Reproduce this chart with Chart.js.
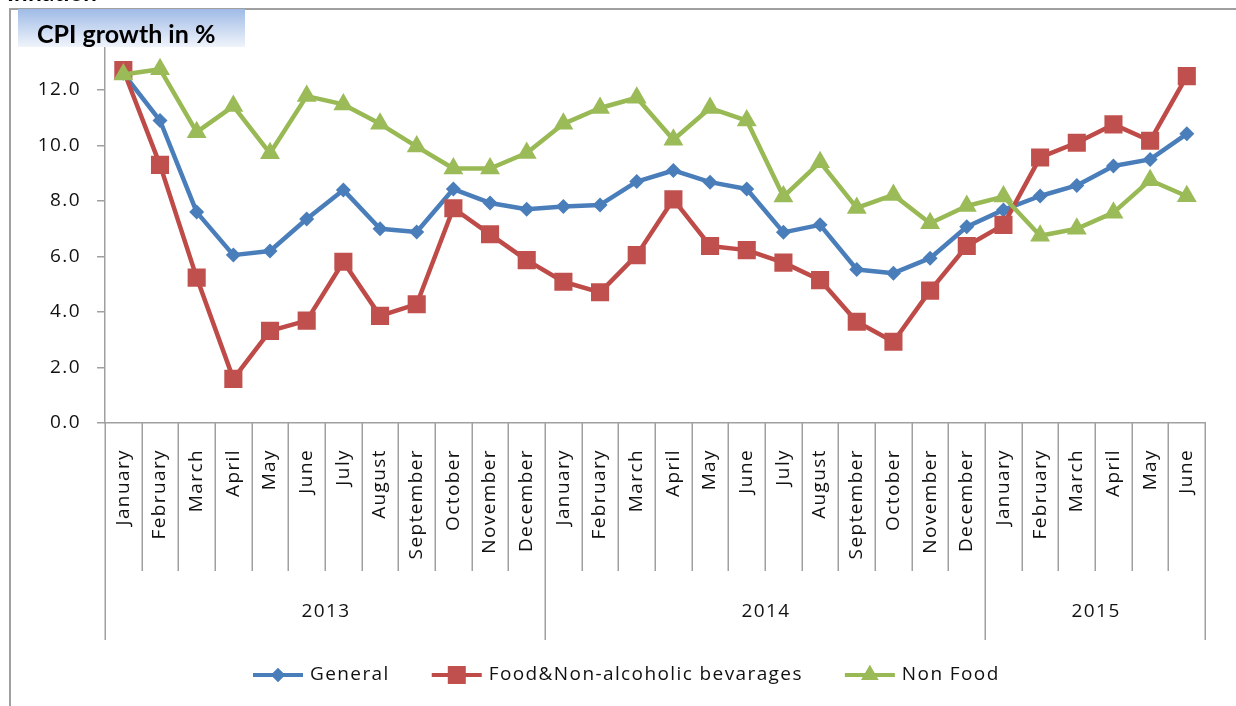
<!DOCTYPE html>
<html>
<head>
<meta charset="utf-8">
<title>CPI growth in %</title>
<script src="https://cdn.jsdelivr.net/npm/chart.js@4/dist/chart.umd.min.js"></script>
<style>
  html, body { margin: 0; padding: 0; background: #fff; }
  canvas { display: block; }
</style>
</head>
<body>
<canvas id="cpiChart" width="1236" height="706"></canvas>
<script>
// --- DATA ---
const years = ['2013', '2014', '2015'];
const monthsPerYear = [12, 12, 6];
const monthNames = ['January', 'February', 'March', 'April', 'May', 'June',
  'July', 'August', 'September', 'October', 'November', 'December'];
const months = years.flatMap((y, i) => monthNames.slice(0, monthsPerYear[i]));

const seriesNames = ['General', 'Food&Non-alcoholic bevarages', 'Non Food'];
const general = [12.6, 10.9, 7.6, 6.05, 6.2, 7.35, 8.4, 7.0, 6.88, 8.43, 7.93, 7.7,
  7.8, 7.86, 8.7, 9.1, 8.68, 8.43, 6.87, 7.14, 5.53, 5.4, 5.94, 7.07,
  7.68, 8.18, 8.56, 9.26, 9.5, 10.42];
const food = [12.72, 9.3, 5.24, 1.59, 3.32, 3.69, 5.81, 3.86, 4.28, 7.74, 6.8, 5.87,
  5.09, 4.71, 6.05, 8.06, 6.38, 6.23, 5.78, 5.15, 3.65, 2.93, 4.77, 6.38,
  7.14, 9.57, 10.1, 10.76, 10.17, 12.5];
const nonFood = [12.56, 12.75, 10.48, 11.42, 9.72, 11.78, 11.48, 10.78, 9.96, 9.17, 9.17, 9.73,
  10.78, 11.35, 11.72, 10.21, 11.35, 10.9, 8.16, 9.4, 7.75, 8.22, 7.2, 7.82,
  8.16, 6.75, 7.0, 7.58, 8.75, 8.17];
const yTicks = [0, 2, 4, 6, 8, 10, 12, 14];

const titleText = 'CPI growth in %';
const GRAY = '#a0a0a0';
const TEXT_FONT = '"Open Sans", sans-serif';
const TRACKING = '1.4px';

// text in this chart is drawn with a bit of extra tracking
const spacing = {
  id: 'spacing',
  beforeLayout(chart) { chart.ctx.letterSpacing = TRACKING; },
  beforeDraw(chart) { chart.ctx.letterSpacing = TRACKING; }
};

// outer frame, month / year dividers, year labels, legend and title box
const decor = {
  id: 'decor',
  beforeDraw(chart) {
    const ctx = chart.ctx;
    ctx.save();
    ctx.strokeStyle = GRAY;
    ctx.lineWidth = 2;
    ctx.beginPath();
    ctx.moveTo(10, 706);
    ctx.lineTo(10, 9);
    ctx.lineTo(1236, 9);
    ctx.stroke();
    ctx.restore();
  },
  afterDraw(chart) {
    const ctx = chart.ctx;
    const area = chart.chartArea;
    const x = chart.scales.x;
    const n = months.length;
    const edge = i => {
      if (i <= 0) return area.left;
      if (i >= n) return area.right;
      return (x.getPixelForValue(i - 1) + x.getPixelForValue(i)) / 2;
    };

    const yearStarts = [0];
    monthsPerYear.forEach(c => yearStarts.push(yearStarts[yearStarts.length - 1] + c));

    ctx.save();
    ctx.strokeStyle = GRAY;
    ctx.lineWidth = 1.5;
    for (let i = 0; i <= n; i++) {
      const isYear = yearStarts.includes(i);
      const px = Math.round(edge(i)) + 0.25;
      ctx.beginPath();
      ctx.moveTo(px, area.bottom);
      ctx.lineTo(px, area.bottom + (isYear ? 217 : 148));
      ctx.stroke();
    }

    ctx.letterSpacing = TRACKING;
    ctx.fillStyle = '#111';
    ctx.font = '19px ' + TEXT_FONT;
    ctx.textAlign = 'center';
    ctx.textBaseline = 'middle';
    years.forEach((yr, k) => {
      const cx = (edge(yearStarts[k]) + edge(yearStarts[k + 1])) / 2;
      ctx.fillText(yr, cx + 1, area.bottom + 189);
    });

    // legend
    ctx.textAlign = 'left';
    let lx = 253;
    const ly = 675;
    chart.data.datasets.forEach(ds => {
      ctx.strokeStyle = ds.borderColor;
      ctx.lineWidth = 4;
      ctx.beginPath();
      ctx.moveTo(lx, ly);
      ctx.lineTo(lx + 50, ly);
      ctx.stroke();
      ctx.fillStyle = ds.backgroundColor;
      Chart.helpers.drawPoint(ctx, {
        pointStyle: ds.pointStyle,
        radius: ds.legendRadius,
        borderWidth: 0,
        rotation: 0
      }, lx + 25, ly);
      ctx.fill();
      ctx.fillStyle = '#111';
      ctx.fillText(ds.label, lx + 57, ly);
      lx += 57 + ctx.measureText(ds.label).width + 42;
    });

    // title box over the top of the value axis
    ctx.letterSpacing = '0px';
    const grad = ctx.createLinearGradient(0, 9, 0, 47);
    grad.addColorStop(0, '#9fbbe6');
    grad.addColorStop(1, '#f0f4fb');
    ctx.fillStyle = grad;
    ctx.fillRect(18, 9, 227, 38);
    ctx.fillStyle = '#000';
    ctx.font = 'bold 25px Lato, sans-serif';
    ctx.textAlign = 'left';
    ctx.textBaseline = 'alphabetic';
    ctx.fillText(titleText, 37, 43);

    // heading above the frame, only its lower edge shows
    ctx.font = 'bold 24px Lato, sans-serif';
    ctx.fillText('Inflation', 7, 0.5);
    ctx.restore();
  }
};

const ctx = document.getElementById('cpiChart').getContext('2d');
new Chart(ctx, {
  type: 'line',
  data: {
    labels: months,
    datasets: [
      {
        label: seriesNames[0],
        data: general,
        borderColor: '#4a7ebb',
        backgroundColor: '#4a7ebb',
        pointStyle: 'rectRot',
        pointRadius: 7.5,
        legendRadius: 7,
        order: 2
      },
      {
        label: seriesNames[1],
        data: food,
        borderColor: '#be4b48',
        backgroundColor: '#c0504d',
        pointStyle: 'rect',
        pointRadius: 12.8,
        legendRadius: 12.5,
        order: 1
      },
      {
        label: seriesNames[2],
        data: nonFood,
        borderColor: '#98b954',
        backgroundColor: '#9bbb59',
        pointStyle: 'triangle',
        pointRadius: 11.5,
        legendRadius: 10,
        order: 0
      }
    ]
  },
  options: {
    responsive: false,
    animation: false,
    events: [],
    layout: { padding: { left: 0, right: 24, top: 34.5, bottom: 0 } },
    elements: {
      line: { borderWidth: 4.5, tension: 0, borderJoinStyle: 'round', borderCapStyle: 'round' },
      point: { borderWidth: 0, hoverRadius: 0 }
    },
    plugins: {
      legend: { display: false },
      tooltip: { enabled: false }
    },
    scales: {
      x: {
        type: 'category',
        offset: true,
        grid: { display: false, drawTicks: false },
        border: { display: true, color: GRAY, width: 1.5 },
        ticks: {
          autoSkip: false,
          minRotation: 90,
          maxRotation: 90,
          padding: 26,
          color: '#111',
          font: { family: TEXT_FONT, size: 19 }
        },
        afterFit(scale) { scale.height = 706 - 423; }
      },
      y: {
        min: yTicks[0],
        max: yTicks[yTicks.length - 1],
        afterBuildTicks(scale) { scale.ticks = yTicks.map(v => ({ value: v })); },
        grid: { drawOnChartArea: false, drawTicks: true, tickLength: 8, color: GRAY, lineWidth: 1.5 },
        border: { display: true, color: GRAY, width: 1.5 },
        ticks: {
          padding: 16,
          color: '#111',
          font: { family: TEXT_FONT, size: 19 },
          callback: v => Number(v).toFixed(1)
        },
        afterFit(scale) { scale.width = 105; }
      }
    }
  },
  plugins: [spacing, decor]
});
</script>
</body>
</html>
